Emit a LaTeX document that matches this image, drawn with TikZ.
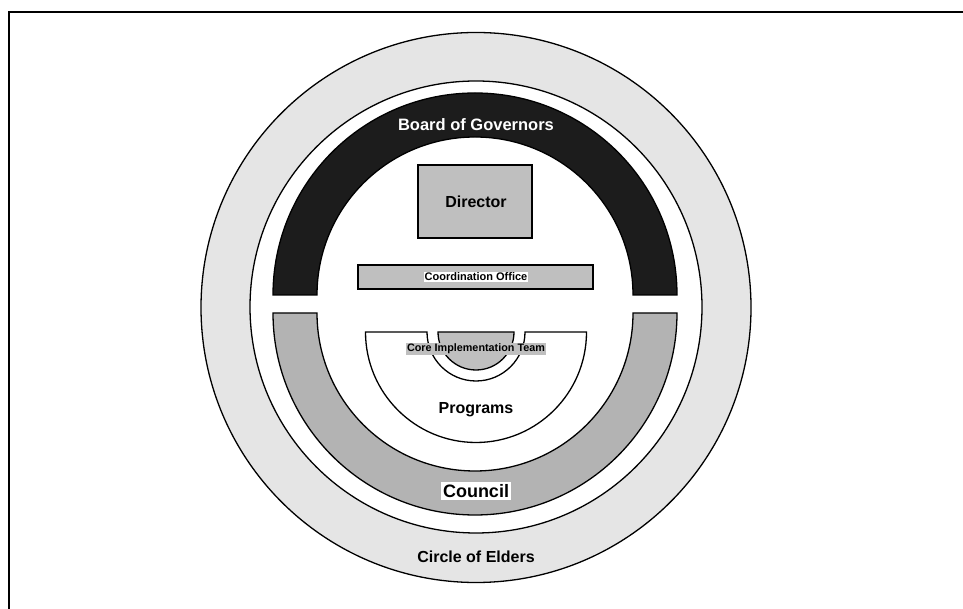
\documentclass[tikz,border=0pt]{standalone}
\usepackage{fontspec}
\setmainfont{Liberation Sans}
\definecolor{eldergray}{HTML}{E5E5E5}
\definecolor{boardblack}{HTML}{1C1C1C}
\definecolor{councilgray}{HTML}{B3B3B3}
\definecolor{boxgray}{HTML}{BFBFBF}
\tikzset{
  outline/.style={draw=black, line width=1.3pt},
  lbl/.style={font=\bfseries, inner sep=1pt},
}
\begin{document}
\begin{tikzpicture}[x=1pt,y=1pt]
\useasboundingbox (0,0) rectangle (963,609);
% frame (cropped)
\draw[line width=2pt] (9,0) -- (9,597) -- (963,597);
% circle of elders
\fill[eldergray] (476,301.5) circle (275);
\draw[outline] (476,301.5) circle (275);
\fill[white] (476,302) circle (226);
\draw[outline] (476,302) circle (226);
% board of governors
\draw[outline, fill=boardblack] (273,314) arc (180:0:202) -- (633,314) arc (0:180:158) -- cycle;
% council
\draw[outline, fill=councilgray] (273,296) arc (180:360:202) -- (633,296) arc (360:180:158) -- cycle;
% director
\draw[outline, fill=boxgray] (418,371) rectangle (532,444);
% coordination office
\draw[outline, fill=boxgray] (358,320) rectangle (593,344);
% programs
\draw[outline, fill=white] (365.5,277) -- (427,277) arc (180:360:49) -- (586.5,277) arc (0:-180:110.5) -- cycle;
% core implementation team
\draw[outline, fill=boxgray] (438,277) arc (180:360:38) -- cycle;
% labels
\node[lbl, text=white, font=\fontsize{16.5}{18}\selectfont\bfseries] (board) at (476,484) {Board of Governors};
\node[lbl, font=\fontsize{16}{18}\selectfont\bfseries] (director) at (476,407) {Director};
\node[lbl, fill=white, font=\fontsize{11}{12}\selectfont\bfseries] (coord) at (476,332) {Coordination Office};
\node[lbl, fill=boxgray, font=\fontsize{10.8}{12}\selectfont\bfseries] (core) at (476,260) {Core Implementation Team};
\node[lbl, font=\fontsize{16}{18}\selectfont\bfseries] (programs) at (476,199) {Programs};
\node[lbl, fill=white, inner sep=2pt, font=\fontsize{18}{20}\selectfont\bfseries] (council) at (476,118) {Council};
\node[lbl, font=\fontsize{16}{18}\selectfont\bfseries] (elders) at (476,52) {Circle of Elders};
\end{tikzpicture}
\end{document}
